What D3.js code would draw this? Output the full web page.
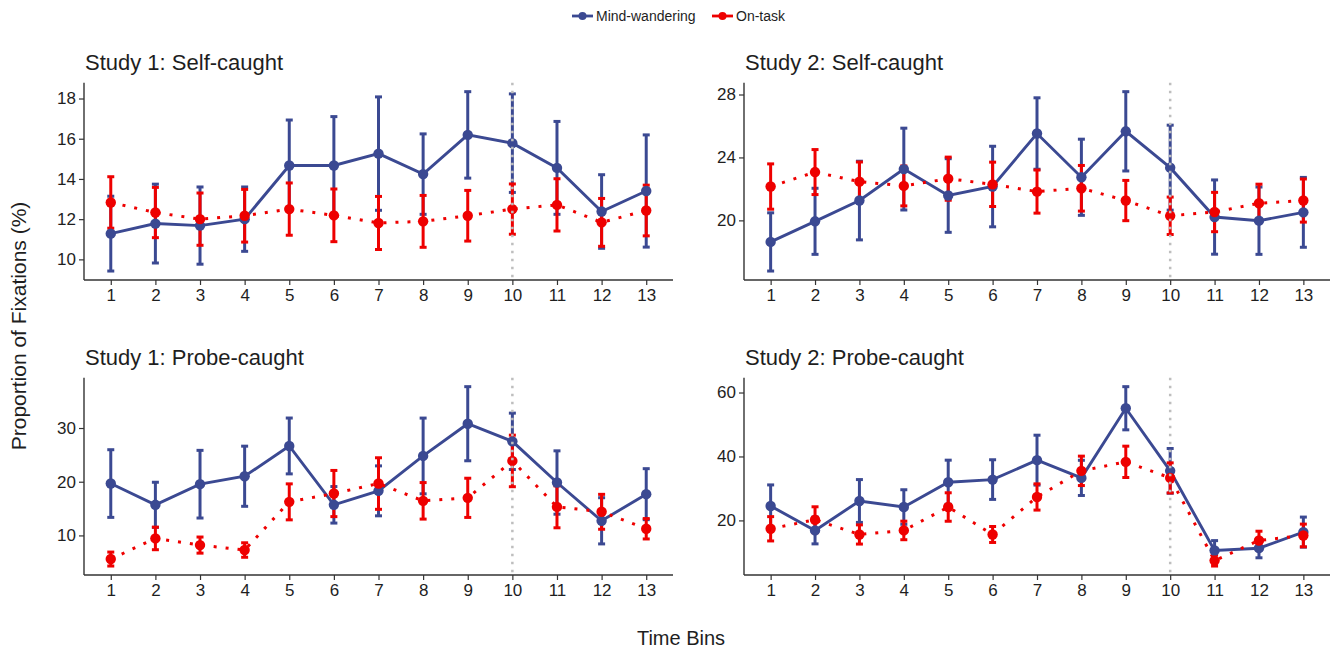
<!DOCTYPE html>
<html>
<head>
<meta charset="utf-8">
<script src="https://cdn.jsdelivr.net/npm/d3@7/dist/d3.min.js"></script>
<style>
  html, body { margin: 0; padding: 0; background: #ffffff; }
  svg { display: block; font-family: "Liberation Sans", Arial, sans-serif; }
</style>
</head>
<body>
<svg id="chart" width="1333" height="650"></svg>
<script>
// ---------------- data ----------------
const bins = [1, 2, 3, 4, 5, 6, 7, 8, 9, 10, 11, 12, 13];
const seriesNames = ["Mind-wandering", "On-task"];
const panelTitles = ["Study 1: Self-caught", "Study 2: Self-caught", "Study 1: Probe-caught", "Study 2: Probe-caught"];
const markerBin = 10;

// Study 1: Self-caught
const s1SelfMW     = [11.28, 11.78, 11.68, 12.00, 14.67, 14.67, 15.26, 14.24, 16.19, 15.78, 14.55, 12.38, 13.40];
const s1SelfMWse   = [1.86, 1.96, 1.92, 1.60, 2.26, 2.43, 2.82, 2.00, 2.15, 2.45, 2.31, 1.83, 2.79];
const s1SelfOT     = [12.83, 12.33, 12.00, 12.17, 12.50, 12.19, 11.81, 11.89, 12.17, 12.50, 12.71, 11.84, 12.43];
const s1SelfOTse   = [1.28, 1.25, 1.30, 1.31, 1.30, 1.31, 1.32, 1.29, 1.26, 1.25, 1.30, 1.19, 1.26];

// Study 2: Self-caught
const s2SelfMW     = [18.63, 19.94, 21.26, 23.26, 21.58, 22.15, 25.52, 22.74, 25.66, 23.35, 20.21, 19.98, 20.51];
const s2SelfMWse   = [1.85, 2.10, 2.50, 2.60, 2.34, 2.56, 2.27, 2.42, 2.52, 2.70, 2.36, 2.14, 2.22];
const s2SelfOT     = [22.15, 23.07, 22.46, 22.19, 22.65, 22.29, 21.83, 22.04, 21.26, 20.29, 20.53, 21.09, 21.26];
const s2SelfOTse   = [1.44, 1.43, 1.25, 1.27, 1.37, 1.41, 1.37, 1.45, 1.28, 1.19, 1.25, 1.21, 1.37];

// Study 1: Probe-caught
const s1ProbeMW    = [19.66, 15.70, 19.54, 21.02, 26.66, 15.70, 18.30, 24.80, 30.80, 27.52, 19.85, 12.72, 17.68];
const s1ProbeMWse  = [6.30, 4.20, 6.30, 5.60, 5.20, 3.40, 4.65, 7.05, 6.90, 5.25, 5.90, 4.30, 4.75];
const s1ProbeOT    = [5.60, 9.44, 8.20, 7.28, 16.25, 17.80, 19.66, 16.44, 17.00, 23.87, 15.32, 14.40, 11.24];
const s1ProbeOTse  = [1.30, 2.10, 1.50, 1.35, 3.35, 4.30, 4.80, 3.40, 3.65, 4.80, 3.90, 3.25, 1.90];

// Study 2: Probe-caught
const s2ProbeMW    = [24.50, 16.86, 26.07, 24.19, 31.94, 32.77, 38.85, 33.30, 55.08, 35.50, 10.58, 11.31, 16.34];
const s2ProbeMWse  = [6.60, 4.20, 6.70, 5.40, 6.90, 6.20, 7.80, 5.50, 6.75, 7.00, 3.10, 3.00, 4.70];
const s2ProbeOT    = [17.38, 20.21, 15.60, 16.86, 24.19, 15.60, 27.33, 35.50, 38.32, 33.30, 7.43, 13.72, 15.29];
const s2ProbeOTse  = [3.80, 4.05, 3.00, 2.90, 4.45, 2.50, 4.10, 4.60, 4.90, 4.70, 1.70, 2.90, 3.55];

const yTicks = [[10, 12, 14, 16, 18], [20, 24, 28], [10, 20, 30], [20, 40, 60]];
const xLabel = "Time Bins";
const yLabel = "Proportion of Fixations (%)";

// ---------------- layout & style ----------------
const colors = { "Mind-wandering": "#3B4992", "On-task": "#EE0000" };
const layout = [
  { x0: 84,  x1: 673,  y0: 82.7,  y1: 280 },
  { x0: 744, x1: 1330, y0: 82.7,  y1: 280 },
  { x0: 84,  x1: 673,  y0: 377.7, y1: 575 },
  { x0: 744, x1: 1330, y0: 377.7, y1: 575 }
];

const panelData = [
  [[s1SelfMW, s1SelfMWse], [s1SelfOT, s1SelfOTse]],
  [[s2SelfMW, s2SelfMWse], [s2SelfOT, s2SelfOTse]],
  [[s1ProbeMW, s1ProbeMWse], [s1ProbeOT, s1ProbeOTse]],
  [[s2ProbeMW, s2ProbeMWse], [s2ProbeOT, s2ProbeOTse]]
];

const svg = d3.select("#chart");
const axisColor = "#333333";
const textColor = "#1e1e1e";

panelData.forEach((pd, pi) => {
  const L = layout[pi];
  const series = pd.map((s, si) => ({
    name: seriesNames[si],
    pts: bins.map((b, i) => ({ bin: b, mean: s[0][i], se: s[1][i] }))
  }));
  const lo = d3.min(series, s => d3.min(s.pts, p => p.mean - p.se));
  const hi = d3.max(series, s => d3.max(s.pts, p => p.mean + p.se));
  const pad = (hi - lo) * 0.05;

  const x = d3.scalePoint().domain(bins).range([L.x0, L.x1]).padding(0.6);
  const y = d3.scaleLinear().domain([lo - pad, hi + pad]).range([L.y1, L.y0]);

  const g = svg.append("g");

  // title
  g.append("text")
    .attr("x", L.x0 + 1).attr("y", L.y0 - 13)
    .attr("font-size", 22).attr("fill", textColor)
    .text(panelTitles[pi]);

  // axes
  const xAxis = g.append("g").attr("transform", `translate(0,${L.y1})`)
    .call(d3.axisBottom(x).tickSize(5).tickPadding(4).tickSizeOuter(0));
  const yAxis = g.append("g").attr("transform", `translate(${L.x0},0)`)
    .call(d3.axisLeft(y).tickValues(yTicks[pi]).tickSize(5).tickPadding(3).tickSizeOuter(0));
  [xAxis, yAxis].forEach(a => {
    a.select(".domain").attr("stroke", axisColor).attr("stroke-width", 1.4);
    a.selectAll(".tick line").attr("stroke", axisColor).attr("stroke-width", 1.2);
    a.selectAll(".tick text").attr("fill", textColor).attr("font-size", 17)
      .attr("font-family", "'Liberation Sans', Arial, sans-serif");
  });
  xAxis.select(".domain").attr("d", `M${L.x0},0H${L.x1}`);
  yAxis.select(".domain").attr("d", `M0,${L.y1}V${L.y0}`);

  const line = d3.line().x(p => x(p.bin)).y(p => y(p.mean));

  // lines
  series.forEach(s => {
    g.append("path").datum(s.pts)
      .attr("d", line)
      .attr("fill", "none")
      .attr("stroke", colors[s.name])
      .attr("stroke-width", s.name === "On-task" ? 3 : 2.9)
      .attr("stroke-dasharray", s.name === "On-task" ? "3,9" : null);
  });

  // error bars
  series.forEach(s => {
    const eb = g.append("g").attr("stroke", colors[s.name]).attr("stroke-width", 3).attr("fill", "none");
    eb.selectAll("line.v").data(s.pts).join("line").attr("class", "v")
      .attr("x1", p => x(p.bin)).attr("x2", p => x(p.bin))
      .attr("y1", p => y(p.mean - p.se)).attr("y2", p => y(p.mean + p.se));
    eb.selectAll("line.t").data(s.pts).join("line").attr("class", "t")
      .attr("x1", p => x(p.bin) - 3.5).attr("x2", p => x(p.bin) + 3.5)
      .attr("y1", p => y(p.mean + p.se)).attr("y2", p => y(p.mean + p.se));
    eb.selectAll("line.b").data(s.pts).join("line").attr("class", "b")
      .attr("x1", p => x(p.bin) - 3.5).attr("x2", p => x(p.bin) + 3.5)
      .attr("y1", p => y(p.mean - p.se)).attr("y2", p => y(p.mean - p.se));
  });

  // points
  series.forEach(s => {
    g.append("g").selectAll("circle").data(s.pts).join("circle")
      .attr("cx", p => x(p.bin)).attr("cy", p => y(p.mean))
      .attr("r", 5.2).attr("fill", colors[s.name]);
  });

  // vertical reference line
  g.append("line")
    .attr("x1", x(markerBin)).attr("x2", x(markerBin))
    .attr("y1", L.y0).attr("y2", L.y1)
    .attr("stroke", "#BEBEBE").attr("stroke-width", 2.5)
    .attr("stroke-dasharray", "2.5,5.5");
});

// axis titles
svg.append("text")
  .attr("x", 681).attr("y", 645)
  .attr("text-anchor", "middle").attr("font-size", 20).attr("fill", textColor)
  .text(xLabel);
svg.append("text")
  .attr("transform", "translate(26,326) rotate(-90)")
  .attr("text-anchor", "middle").attr("font-size", 21).attr("fill", textColor)
  .text(yLabel);

// legend
const legendItems = [
  { name: seriesNames[0], x: 572 },
  { name: seriesNames[1], x: 712 }
];
const lg = svg.append("g");
legendItems.forEach(it => {
  const c = colors[it.name];
  lg.append("line").attr("x1", it.x).attr("x2", it.x + 21).attr("y1", 16).attr("y2", 16)
    .attr("stroke", c).attr("stroke-width", 2.8);
  lg.append("circle").attr("cx", it.x + 10.5).attr("cy", 16).attr("r", 4).attr("fill", c);
  lg.append("text").attr("x", it.x + 24).attr("y", 21)
    .attr("font-size", 14).attr("fill", textColor).text(it.name);
});
</script>
</body>
</html>
